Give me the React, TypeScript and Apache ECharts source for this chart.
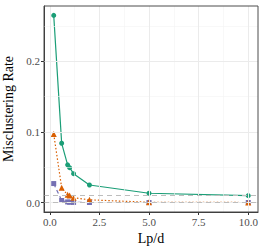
import React, { useEffect, useRef } from "react";
import * as echarts from "echarts";

const lpd = [0.2, 0.6, 0.9, 1.0, 1.2, 2, 5, 10];
const greenRate = [0.265, 0.084, 0.0535, 0.0495, 0.041, 0.025, 0.0133, 0.0099];
const orangeRate = [0.097, 0.021, 0.011, 0.01, 0.007, 0.004, 0.0005, 0.0002];
const purpleRate = [0.027, 0.003, 0.001, 0.0005, 0.0003, 0.0002, 0.0002, 0.0002];
const refLines = [0.0072, 0];
const xTicks = [0, 2.5, 5, 7.5, 10];
const xMinor = [1.25, 3.75, 6.25, 8.75];
const yTicks = [0, 0.1, 0.2];
const yMinor = [0.05, 0.15, 0.25];

const FONT = "'Liberation Serif', 'DejaVu Serif', serif";

export default function App() {
  const ref = useRef<HTMLDivElement>(null);
  useEffect(() => {
    if (!ref.current) return;
    const chart = echarts.init(ref.current, undefined, { renderer: "svg" });
    const pair = (xs: number[], ys: number[]) => xs.map((x, i) => [x, ys[i]]);
    const gridLine = (axis: "xAxis" | "yAxis", v: number, color: string, w: number) => ({
      [axis]: v,
      lineStyle: { color, width: w, type: "solid" },
    });
    chart.setOption({
      animation: false,
      backgroundColor: "#ffffff",
      textStyle: { fontFamily: FONT },
      grid: {
        left: 44,
        right: 9,
        top: 6,
        bottom: 38,
        containLabel: false,
        outerBoundsMode: "none",
      },
      xAxis: {
        type: "value",
        min: -0.29,
        max: 10.49,
        name: "Lp/d",
        nameLocation: "middle",
        nameGap: 18,
        nameTextStyle: { fontFamily: FONT, fontSize: 14, color: "#000" },
        axisLine: { show: true, onZero: false, lineStyle: { color: "#333333", width: 1 } },
        axisTick: { show: true, length: 3, customValues: xTicks, lineStyle: { color: "#333333" } },
        axisLabel: {
          customValues: xTicks,
          margin: 4,
          fontFamily: FONT,
          fontSize: 11,
          color: "#4D4D4D",
          formatter: (v: number) => v.toFixed(1),
        },
        splitLine: { show: false },
      },
      yAxis: {
        type: "value",
        min: -0.01325,
        max: 0.2783,
        name: "Misclustering Rate",
        nameLocation: "middle",
        nameGap: 24,
        nameTextStyle: { fontFamily: FONT, fontSize: 14, color: "#000" },
        axisLine: { show: true, onZero: false, lineStyle: { color: "#333333", width: 1 } },
        axisTick: { show: true, length: 3, customValues: yTicks, lineStyle: { color: "#333333" } },
        axisLabel: {
          customValues: yTicks,
          margin: 4,
          fontFamily: FONT,
          fontSize: 11,
          color: "#4D4D4D",
          formatter: (v: number) => v.toFixed(1),
        },
        splitLine: { show: false },
      },
      series: [
        {
          type: "line",
          data: [],
          silent: true,
          markLine: {
            silent: true,
            symbol: "none",
            label: { show: false },
            data: [
              ...xMinor.map((v) => gridLine("xAxis", v, "#F3F3F3", 0.6)),
              ...yMinor.map((v) => gridLine("yAxis", v, "#F3F3F3", 0.6)),
              ...xTicks.map((v) => gridLine("xAxis", v, "#EBEBEB", 1)),
              ...yTicks.map((v) => gridLine("yAxis", v, "#EBEBEB", 1)),
            ],
          },
        },
        {
          type: "line",
          data: [],
          silent: true,
          markLine: {
            silent: true,
            symbol: "none",
            label: { show: false },
            lineStyle: { color: "#BDBDBD", width: 1.2, type: [5, 4] },
            data: refLines.map((v) => ({ yAxis: v })),
          },
        },
        {
          name: "purple",
          type: "line",
          data: pair(lpd, purpleRate),
          symbol: "rect",
          symbolSize: 5,
          itemStyle: { color: "#7570B3" },
          lineStyle: { color: "#7570B3", width: 1.2, type: [4, 3] },
        },
        {
          name: "orange",
          type: "line",
          data: pair(lpd, orangeRate),
          symbol: "triangle",
          symbolSize: 6,
          itemStyle: { color: "#D95F02" },
          lineStyle: { color: "#D95F02", width: 1.2, type: [1.5, 2] },
        },
        {
          name: "green",
          type: "line",
          data: pair(lpd, greenRate),
          symbol: "circle",
          symbolSize: 5,
          itemStyle: { color: "#1B9E77" },
          lineStyle: { color: "#1B9E77", width: 1.2 },
        },
      ],
      graphic: [
        {
          type: "rect",
          shape: { x: 44, y: 6, width: 214, height: 206 },
          style: { fill: "none", stroke: "#4D4D4D", lineWidth: 1 },
          silent: true,
          z: 100,
        },
      ],
    });
    return () => chart.dispose();
  }, []);
  return (
    <div
      ref={ref}
      style={{ position: "fixed", left: 0, top: 0, width: 267, height: 250 }}
    />
  );
}
